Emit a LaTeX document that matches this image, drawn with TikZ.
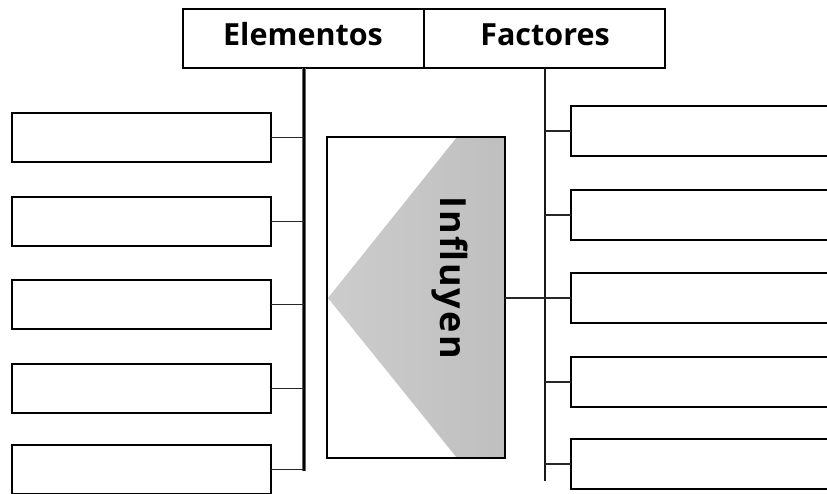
\documentclass[tikz,border=0pt]{standalone}
\usepackage{fontspec}
\setmainfont{Open Sans}
\begin{document}
\begin{tikzpicture}[x=1pt,y=-1pt,
  box/.style={draw=black,line width=1.8pt,inner sep=0pt,outer sep=0pt,rectangle,anchor=north west},
  conn/.style={line width=1.6pt,draw=black!85},
  title/.style={anchor=base,inner sep=0pt,font=\fontsize{30.5}{31}\selectfont\bfseries}]
\useasboundingbox (0,0) rectangle (827,493);
\clip (0,0) rectangle (827,493);
% top boxes
\node[box,minimum width=241pt,minimum height=59pt] (elem) at (183,9) {};
\node[box,minimum width=241pt,minimum height=59pt] (fact) at (424,9) {};
\node[title] (telem) at (303,45) {Elementos};
\node[title] (tfact) at (545,45) {Factores};
% vertical lines
\coordinate (lt) at (304,68);
\coordinate (lb) at (304,471);
\coordinate (rt) at (545,68);
\coordinate (rb) at (545,481);
\draw[line width=4pt,draw=black!60] (lt) -- (lb);
\draw[line width=2pt,draw=black] (lt) -- (lb);
\draw[line width=2pt,draw=black!90] (rt) -- (rb);
% left boxes
\foreach \i/\t in {1/113,2/197,3/280,4/364,5/445}{
  \node[box,minimum width=259pt,minimum height=49pt] (L\i) at (12,\t) {};
  \draw[conn] (L\i.east) -- (L\i.east -| lt);
}
% right boxes
\foreach \i/\t in {1/106,2/190,3/273,4/357,5/439}{
  \node[box,minimum width=270pt,minimum height=50pt] (R\i) at (571,\t) {};
  \draw[conn] (R\i.west) -- (R\i.west -| rt);
}
% centre
\shade[left color=black!20,right color=black!25] (457,137) -- (505,137) -- (505,458) -- (457,458) -- (328,298) -- cycle;
\node[box,minimum width=178pt,minimum height=321pt] (C) at (327,137) {};
\node[anchor=base,inner sep=0pt,rotate=-90,font=\fontsize{36}{36}\selectfont\bfseries\addfontfeature{LetterSpace=6}] (infl) at (440,277.5) {Influyen};
\draw[conn] (C.east |- 0,298) coordinate (ce) -- (ce -| rt);
\end{tikzpicture}
\end{document}
